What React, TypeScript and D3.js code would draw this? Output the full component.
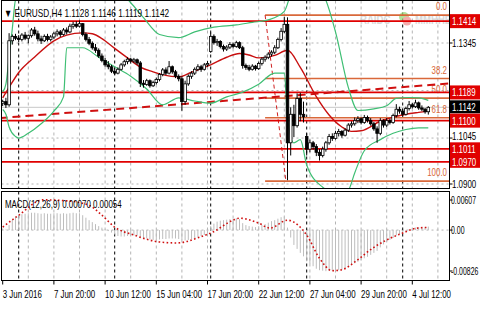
import React from 'react';
import * as d3 from 'd3';

const headerText = '\u25BC EURUSD,H4  1.1128 1.1146 1.1119 1.1142';
const macdText = 'MACD(12,26,9) 0.00070 0.00054';
const watermarkLeft = 'RAIDC';
const watermarkRight = 'MMHHB';

const opens = [1.1155,1.1160,1.1150,1.1352,1.1366,1.1360,1.1356,1.1370,1.1360,1.1368,
 1.1386,1.1374,1.1358,1.1352,1.1366,1.1356,1.1364,1.1374,1.1380,1.1372,
 1.1386,1.1380,1.1398,1.1404,1.1398,1.1406,1.1372,1.1356,1.1344,1.1330,
 1.1322,1.1304,1.1290,1.1276,1.1270,1.1256,1.1250,1.1262,1.1276,1.1286,
 1.1294,1.1288,1.1292,1.1282,1.1218,1.1214,1.1226,1.1210,1.1220,1.1230,
 1.1246,1.1260,1.1250,1.1270,1.1254,1.1240,1.1232,1.1160,1.1216,1.1240,
 1.1250,1.1262,1.1270,1.1262,1.1276,1.1318,1.1366,1.1346,1.1350,1.1334,
 1.1326,1.1332,1.1340,1.1334,1.1346,1.1330,1.1274,1.1268,1.1262,1.1272,
 1.1264,1.1280,1.1294,1.1300,1.1310,1.1316,1.1330,1.1356,1.1382,1.1404,
 1.1030,1.1120,1.1084,1.1170,1.1120,1.1050,1.1010,1.1030,1.1018,1.1000,
 1.0990,1.1010,1.1030,1.1050,1.1044,1.1060,1.1066,1.1054,1.1070,1.1086,
 1.1090,1.1100,1.1106,1.1094,1.1110,1.1100,1.1090,1.1074,1.1060,1.1100,
 1.1086,1.1100,1.1094,1.1116,1.1136,1.1130,1.1120,1.1138,1.1150,1.1144,
 1.1156,1.1140,1.1136,1.1128];
const highs = [1.1166,1.1172,1.1376,1.1372,1.1374,1.1370,1.1376,1.1380,1.1372,1.1392,
 1.1396,1.1384,1.1368,1.1372,1.1374,1.1370,1.1380,1.1388,1.1386,1.1392,
 1.1394,1.1406,1.1412,1.1414,1.1416,1.1408,1.1378,1.1364,1.1350,1.1342,
 1.1328,1.1312,1.1298,1.1288,1.1276,1.1266,1.1268,1.1282,1.1292,1.1300,
 1.1298,1.1298,1.1296,1.1288,1.1228,1.1232,1.1230,1.1226,1.1236,1.1250,
 1.1266,1.1268,1.1288,1.1274,1.1260,1.1246,1.1240,1.1226,1.1246,1.1256,
 1.1268,1.1278,1.1276,1.1282,1.1288,1.1378,1.1372,1.1358,1.1354,1.1340,
 1.1338,1.1348,1.1346,1.1352,1.1350,1.1336,1.1280,1.1276,1.1278,1.1276,
 1.1286,1.1300,1.1306,1.1316,1.1322,1.1338,1.1362,1.1392,1.1428,1.1426,
 1.1142,1.1150,1.1186,1.1188,1.1160,1.1060,1.1040,1.1036,1.1026,1.1010,
 1.1018,1.1036,1.1058,1.1060,1.1068,1.1074,1.1070,1.1076,1.1092,1.1098,
 1.1110,1.1114,1.1110,1.1118,1.1116,1.1108,1.1096,1.1082,1.1108,1.1104,
 1.1108,1.1106,1.1122,1.1152,1.1144,1.1138,1.1144,1.1162,1.1156,1.1166,
 1.1160,1.1148,1.1140,1.1146];
const lows = [1.1146,1.1140,1.1144,1.1340,1.1354,1.1348,1.1350,1.1354,1.1344,1.1362,
 1.1368,1.1350,1.1342,1.1348,1.1350,1.1350,1.1358,1.1366,1.1364,1.1368,
 1.1372,1.1376,1.1390,1.1392,1.1394,1.1366,1.1350,1.1338,1.1324,1.1314,
 1.1298,1.1284,1.1270,1.1262,1.1250,1.1244,1.1246,1.1258,1.1270,1.1278,
 1.1280,1.1282,1.1276,1.1206,1.1204,1.1210,1.1204,1.1206,1.1214,1.1224,
 1.1240,1.1244,1.1246,1.1248,1.1234,1.1224,1.1131,1.1150,1.1210,1.1232,
 1.1244,1.1256,1.1254,1.1258,1.1270,1.1314,1.1340,1.1336,1.1328,1.1318,
 1.1320,1.1326,1.1328,1.1330,1.1326,1.1264,1.1260,1.1256,1.1258,1.1258,
 1.1260,1.1274,1.1286,1.1294,1.1302,1.1310,1.1326,1.1350,1.1376,1.0912,
 1.0990,1.1048,1.1078,1.1098,1.1094,1.0990,1.1000,1.1008,1.0988,1.0974,
 1.0984,1.1002,1.1024,1.1036,1.1040,1.1050,1.1046,1.1050,1.1064,1.1078,
 1.1084,1.1092,1.1088,1.1090,1.1094,1.1084,1.1068,1.1030,1.1054,1.1078,
 1.1080,1.1088,1.1090,1.1110,1.1122,1.1114,1.1116,1.1132,1.1138,1.1140,
 1.1134,1.1130,1.1122,1.1119];
const closes = [1.1160,1.1150,1.1352,1.1366,1.1360,1.1356,1.1370,1.1360,1.1368,1.1386,
 1.1374,1.1358,1.1352,1.1366,1.1356,1.1364,1.1374,1.1380,1.1372,1.1386,
 1.1380,1.1398,1.1404,1.1398,1.1406,1.1372,1.1356,1.1344,1.1330,1.1322,
 1.1304,1.1290,1.1276,1.1270,1.1256,1.1250,1.1262,1.1276,1.1286,1.1294,
 1.1288,1.1292,1.1282,1.1218,1.1214,1.1226,1.1210,1.1220,1.1230,1.1246,
 1.1260,1.1250,1.1270,1.1254,1.1240,1.1232,1.1160,1.1216,1.1240,1.1250,
 1.1262,1.1270,1.1262,1.1276,1.1280,1.1366,1.1346,1.1350,1.1334,1.1326,
 1.1332,1.1340,1.1334,1.1346,1.1330,1.1274,1.1268,1.1262,1.1272,1.1264,
 1.1280,1.1294,1.1300,1.1310,1.1316,1.1330,1.1356,1.1382,1.1404,1.1030,
 1.1120,1.1084,1.1170,1.1120,1.1112,1.1010,1.1030,1.1018,1.1000,1.0990,
 1.1010,1.1030,1.1050,1.1044,1.1060,1.1066,1.1054,1.1070,1.1086,1.1090,
 1.1100,1.1106,1.1094,1.1110,1.1100,1.1090,1.1074,1.1060,1.1100,1.1086,
 1.1100,1.1094,1.1116,1.1136,1.1130,1.1120,1.1138,1.1150,1.1144,1.1156,
 1.1140,1.1136,1.1128,1.1142];

// moving average (red), read at selected bars
const maBars = [0, 2, 5, 10, 16, 20, 25, 28, 31, 35, 39, 43, 47, 50, 55, 59, 65, 70, 74, 77, 80, 85, 89, 93, 98, 102, 106, 109, 112, 118, 122, 126, 130, 133];
const maVals = [1.1172, 1.1205, 1.1252, 1.1301, 1.1352, 1.1370, 1.1377, 1.1374, 1.1359, 1.1328, 1.1298, 1.1269, 1.1254, 1.1245, 1.1238, 1.1253, 1.1276, 1.1300, 1.1312, 1.1307, 1.1298, 1.1306, 1.1322, 1.1268, 1.1176, 1.1118, 1.1080, 1.1066, 1.1068, 1.1098, 1.1111, 1.1120, 1.1126, 1.1130];

// Bollinger bands (green), read at selected bars
const upBars = [0, 1, 2, 3, 4, 8, 14, 20, 28, 36, 40, 44, 49, 55, 60, 66, 73, 78, 83, 88, 90, 92, 100, 104, 108, 111, 116, 120, 123, 127, 130, 133];
const upVals = [1.1190, 1.1215, 1.1300, 1.1390, 1.1480, 1.1520, 1.1530, 1.1530, 1.1520, 1.1510, 1.1472, 1.1425, 1.1372, 1.1362, 1.1380, 1.1395, 1.1402, 1.1410, 1.1418, 1.1445, 1.1500, 1.1550, 1.1500, 1.1380, 1.1205, 1.1132, 1.1137, 1.1147, 1.1170, 1.1173, 1.1172, 1.1164];
const loBars = [0, 1, 2, 4, 5, 8, 12, 16, 19, 20, 25, 30, 35, 40, 45, 50, 55, 60, 65, 70, 75, 80, 85, 88, 89, 91, 93, 95, 100, 105, 108, 110, 113, 118, 122, 126, 130, 133];
const loVals = [1.1135, 1.1120, 1.1080, 1.1050, 1.1045, 1.1060, 1.1090, 1.1130, 1.1175, 1.1330, 1.1330, 1.1300, 1.1270, 1.1240, 1.1200, 1.1150, 1.1172, 1.1162, 1.1155, 1.1175, 1.1190, 1.1215, 1.1250, 1.1250, 1.1110, 1.1030, 1.1040, 1.0960, 1.0890, 1.0870, 1.0881, 1.0935, 1.1005, 1.1040, 1.1060, 1.1072, 1.1077, 1.1077];

// horizontal support / resistance levels
const hLevels = [1.1414, 1.1189, 1.1100, 1.1011, 1.0970];
// fibonacci retracement
const fibLevels = [0, 38.2, 50, 61.8, 100];
const fibLabels = ['0.0', '38.2', '50.0', '61.8', '100.0'];
const fibHigh = 1.1433;
const fibLow = 1.0909;
const fibBars = [82, 88.5];
// long dashed trend line
const trendBars = [-1, 139.4];
const trendVals = [1.1108, 1.1217];

const priceTicks = [1.1345, 1.1195, 1.1045, 1.09];
const priceTickLabels = ['1.1345', '', '1.1045', '1.0900'];
const timeTickBars = [0, 16, 32, 48, 64, 80, 96, 112, 128];
const timeTickLabels = ['3 Jun 2016', '7 Jun 20:00', '10 Jun 12:00', '15 Jun 04:00', '17 Jun 20:00', '22 Jun 12:00', '27 Jun 04:00', '29 Jun 20:00', '4 Jul 12:00'];
const weekBars = [5, 35, 65, 95, 125];

const macdHist = [0.0003,0.0001,0.0010,0.0020,0.0027,0.0030,0.0032,0.0033,0.0034,0.0035,
 0.0035,0.0034,0.0033,0.0034,0.0033,0.0033,0.0034,0.0034,0.0033,0.0034,
 0.0033,0.0034,0.0035,0.0034,0.0034,0.0030,0.0025,0.0020,0.0016,0.0012,
 0.0008,0.0005,0.0002,-0.0002,-0.0005,-0.0009,-0.0012,-0.0013,-0.0013,-0.0012,
 -0.0011,-0.0011,-0.0011,-0.0014,-0.0016,-0.0017,-0.0019,-0.0020,-0.0020,-0.0019,
 -0.0018,-0.0018,-0.0017,-0.0017,-0.0017,-0.0018,-0.0020,-0.0021,-0.0020,-0.0018,
 -0.0016,-0.0014,-0.0012,-0.0010,-0.0007,0.0008,0.0013,0.0017,0.0019,0.0020,
 0.0021,0.0022,0.0023,0.0024,0.0022,0.0014,0.0010,0.0008,0.0007,0.0006,
 0.0008,0.0010,0.0012,0.0015,0.0018,0.0020,0.0023,0.0026,0.0027,0.0005,
 -0.0015,-0.0030,-0.0038,-0.0046,-0.0053,-0.0063,-0.0068,-0.0073,-0.0078,-0.0081,
 -0.0082,-0.0083,-0.0082,-0.0082,-0.0082,-0.0081,-0.0080,-0.0077,-0.0074,-0.0071,
 -0.0067,-0.0064,-0.0061,-0.0057,-0.0054,-0.0050,-0.0046,-0.0042,-0.0035,-0.0029,
 -0.0024,-0.0020,-0.0016,-0.0011,-0.0008,-0.0006,-0.0002,0.0001,0.0003,0.0005,
 0.0006,0.0006,0.0006,0.0007];
const sigBars = [0, 5, 12.6, 20, 27, 31, 35, 41, 49, 54.5, 61.7, 65.7, 72, 74, 80, 83.5, 89, 92.3, 95, 99, 103, 106, 110.7, 115.7, 120, 125, 129.5, 133];
const sigVals = [0.0006, 0.0030, 0.0061, 0.0059, 0.0050, 0.0030, 0.0006, -0.0010, -0.0024, -0.0026, -0.0014, -0.0004, 0.0020, 0.0024, 0.0014, 0.0004, 0.0020, 0.0010, -0.0010, -0.0057, -0.0082, -0.0080, -0.0061, -0.0036, -0.0020, -0.0006, 0.0004, 0.00054];
const macdTicks = [0.00607, 0, -0.00826];
const macdTickLabels = ['0.00607', '0.00', '-0.00826'];

const FONT = 'Liberation Sans, Arial, sans-serif';

function CT(props: { x: number; y: number; sx?: number; size?: number; anchor?: string; fill?: string; weight?: string; children: React.ReactNode }) {
  const { x, y, sx = 0.72, size = 11, anchor = 'start', fill = '#000', weight = 'normal', children } = props;
  return (
    <text transform={`translate(${x},${y}) scale(${sx},1)`} fontSize={size} fontWeight={weight} textAnchor={anchor as any} fill={fill} fontFamily={FONT}>
      {children}
    </text>
  );
}

export default function App() {
  const L = 1.5, R = 449.5, MT = 0.5, MB = 188.5, ST = 191.5, SB = 280.5;
  const x = d3.scaleLinear().domain([0, 133]).range([2.7, 428.3]);
  const y = d3.scaleLinear().domain([1.09, 1.1345]).range([184, 43]);
  const ym = d3.scaleLinear().domain([-0.00826, 0.00607]).range([271, 200]);

  const sparse = (bars: number[], vals: number[], sc: (v: number) => number) =>
    d3.line<number>().x((_, k) => x(bars[k])).y((v) => sc(v)).curve(d3.curveMonotoneX)(vals) || '';

  const red = '#e00000';
  const fibColor = '#d9683a';
  const green = '#3fbf74';
  const fibY = (lv: number) => y(fibHigh - (fibHigh - fibLow) * lv / 100);
  const gridBars = d3.range(8, 140, 8);
  const last = closes[closes.length - 1];

  return (
    <div style={{ position: 'absolute', left: 0, top: 0, width: 480, height: 310, background: '#fff' }}>
      <svg width={480} height={310} style={{ display: 'block' }}>
        <defs>
          <clipPath id="cmain"><rect x={L} y={MT} width={R - L} height={MB - MT} /></clipPath>
          <clipPath id="csub"><rect x={L} y={ST} width={R - L} height={SB - ST} /></clipPath>
        </defs>
        <rect x={0} y={0} width={480} height={310} fill="#fff" />

        {/* main panel */}
        <g clipPath="url(#cmain)">
          {gridBars.map((b) => (
            <line key={'gv' + b} x1={x(b)} x2={x(b)} y1={MT} y2={MB} stroke="#b4b4b4" strokeDasharray="3,3" />
          ))}
          {priceTicks.map((p) => (
            <line key={'gh' + p} x1={L} x2={R} y1={y(p)} y2={y(p)} stroke="#b4b4b4" strokeDasharray="2,3" />
          ))}
          {weekBars.map((b) => (
            <line key={'wk' + b} x1={x(b)} x2={x(b)} y1={MT} y2={MB} stroke="#000" strokeDasharray="3,3" />
          ))}
          <line x1={L} x2={R} y1={y(last)} y2={y(last)} stroke="#c8c8c8" />
          {/* watermark */}
          <g opacity={0.75}>
            <CT x={360} y={24} size={12} sx={0.8} weight="bold" fill="#cccccc">{watermarkLeft}</CT>
            <circle cx={404} cy={17} r={5} fill="#9ad77a" />
            <circle cx={407} cy={21} r={4.5} fill="#f19090" />
            <CT x={415} y={24} size={12} sx={0.8} weight="bold" fill="#cccccc">{watermarkRight}</CT>
          </g>
          {/* fibonacci */}
          {fibLevels.map((lv, k) => (
            <g key={'fib' + lv}>
              <line x1={x(fibBars[0])} x2={R} y1={fibY(lv)} y2={fibY(lv)} stroke={fibColor} strokeWidth={1.6} />
              <CT x={447} y={fibY(lv) - 5} anchor="end" fill={fibColor} size={11}>{fibLabels[k]}</CT>
            </g>
          ))}
          <line x1={x(fibBars[0])} y1={y(fibHigh)} x2={x(fibBars[1])} y2={y(fibLow)} stroke="#d02020" strokeDasharray="4,3" />
          {/* horizontal levels */}
          {hLevels.map((p) => (
            <line key={'hl' + p} x1={L} x2={R} y1={y(p)} y2={y(p)} stroke={red} strokeWidth={1.7} />
          ))}
          {/* trend line */}
          <line x1={x(trendBars[0])} y1={y(trendVals[0])} x2={x(trendBars[1])} y2={y(trendVals[1])} stroke="#d01010" strokeWidth={2} strokeDasharray="8,5" />
          {/* bands and MA */}
          <path d={sparse(upBars, upVals, y)} fill="none" stroke={green} strokeWidth={1.2} />
          <path d={sparse(loBars, loVals, y)} fill="none" stroke={green} strokeWidth={1.2} />
          <path d={sparse(maBars, maVals, y)} fill="none" stroke="#c81010" strokeWidth={1.4} />
          {/* candles */}
          {closes.map((c, i) => {
            const o = opens[i];
            const cx = x(i);
            const top = y(Math.max(o, c));
            const bot = y(Math.min(o, c));
            const bull = c >= o;
            return (
              <g key={'c' + i}>
                <line x1={cx} x2={cx} y1={y(highs[i])} y2={y(lows[i])} stroke="#000" strokeWidth={1} />
                <rect x={cx - 1.3} y={top} width={2.6} height={Math.max(bot - top, 0.8)} fill={bull ? '#fff' : '#000'} stroke="#000" strokeWidth={0.8} />
              </g>
            );
          })}
        </g>
        <CT x={4} y={17} size={11} sx={0.75}>{headerText}</CT>
        <rect x={L} y={MT} width={R - L} height={MB - MT} fill="none" stroke="#000" />

        {/* MACD panel */}
        <g clipPath="url(#csub)">
          {gridBars.map((b) => (
            <line key={'sgv' + b} x1={x(b)} x2={x(b)} y1={ST} y2={SB} stroke="#b4b4b4" strokeDasharray="3,3" />
          ))}
          <line x1={L} x2={R} y1={ym(0)} y2={ym(0)} stroke="#b4b4b4" strokeDasharray="2,3" />
          {weekBars.map((b) => (
            <line key={'swk' + b} x1={x(b)} x2={x(b)} y1={ST} y2={SB} stroke="#000" strokeDasharray="3,3" />
          ))}
          {macdHist.map((v, i) => (
            <line key={'h' + i} x1={x(i)} x2={x(i)} y1={ym(0)} y2={ym(v)} stroke="#bdbdbd" strokeWidth={1} />
          ))}
          <path d={sparse(sigBars, sigVals, ym)} fill="none" stroke="#d01010" strokeWidth={1.6} strokeDasharray="1.6,2.4" />
        </g>
        <CT x={5} y={208} size={11}>{macdText}</CT>
        <rect x={L} y={ST} width={R - L} height={SB - ST} fill="none" stroke="#000" />

        {/* right price axis */}
        {priceTicks.map((p, k) => priceTickLabels[k] ? (
          <g key={'pt' + p}>
            <line x1={R} x2={R + 3} y1={y(p)} y2={y(p)} stroke="#000" />
            <CT x={452} y={p === 1.1045 ? y(p) + 1.5 : y(p) + 4}>{priceTickLabels[k]}</CT>
          </g>
        ) : null)}
        {/* level boxes */}
        <rect x={450} y={y(1.1414) - 7} width={30} height={14} fill={red} />
        <CT x={452} y={y(1.1414) + 4} fill="#fff">1.1414</CT>
        <rect x={450} y={y(1.1189) - 7} width={30} height={14} fill={red} />
        <CT x={452} y={y(1.1189) + 4} fill="#fff">1.1189</CT>
        <rect x={450} y={y(1.1142) - 7} width={30} height={13} fill="#000" />
        <CT x={452} y={y(1.1142) + 4} fill="#fff">1.1142</CT>
        <rect x={450} y={y(1.1100) - 7} width={30} height={14} fill={red} />
        <CT x={452} y={y(1.1100) + 4} fill="#fff">1.1100</CT>
        <rect x={450} y={y(1.1011) - 6.5} width={30} height={25.5} fill={red} />
        <CT x={452} y={y(1.1011) + 4} fill="#fff">1.1011</CT>
        <CT x={452} y={y(1.0970) + 4} fill="#fff">1.0970</CT>

        {/* MACD axis */}
        {macdTicks.map((v, k) => (
          <g key={'mt' + k}>
            <line x1={R} x2={R + 3} y1={ym(v)} y2={ym(v)} stroke="#000" />
            <CT x={451} y={ym(v) + 4} sx={0.63}>{macdTickLabels[k]}</CT>
          </g>
        ))}

        {/* time axis */}
        {timeTickBars.map((b, k) => (
          <g key={'tt' + b}>
            <line x1={x(b)} x2={x(b)} y1={SB} y2={SB + 4} stroke="#000" />
            <CT x={x(b)} y={298}>{timeTickLabels[k]}</CT>
          </g>
        ))}
      </svg>
    </div>
  );
}
